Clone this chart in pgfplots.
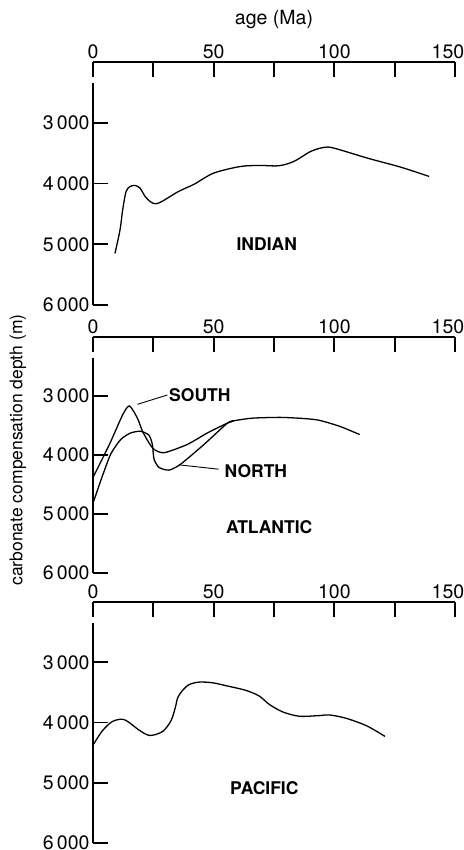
\documentclass[border=0pt]{standalone}
\usepackage{fontspec}
\setmainfont{TeX Gyre Heros}
\usepackage{pgfplots}
\pgfplotsset{compat=1.18}
\tikzset{lab/.style={font=\fontsize{17.5bp}{20bp}\selectfont\bfseries}}
\begin{document}
\begin{tikzpicture}[font=\fontsize{19.5bp}{22bp}\selectfont]
\pgfplotsset{
 ccd/.style={
  scale only axis, width=362bp,
  xmin=0, xmax=150, ymin=2000, ymax=6000, y dir=reverse,
  axis x line*=top, axis y line*=left,
  axis line style={-, line width=1.7bp},
  y axis line style={draw=none},
  xtick={0,50,100,150}, xticklabels={0,50,100,{\hspace*{-14bp}150}},
  minor xtick={25,75,125},
  ytick={3000,4000,5000,6000}, yticklabels={3\,000,4\,000,5\,000,6\,000},
  tick align=inside,
  major tick length=15bp, minor tick length=15bp,
  every tick/.style={black, line width=1.7bp},
  every minor tick/.style={black, line width=1.7bp},
  tick label style={font=\fontsize{19.5bp}{22bp}\selectfont},
  xticklabel style={inner sep=3bp},
  clip=false,
  anchor=north west,
 },
 curve/.style={black, line width=1.3bp, smooth, no marks},
}
% ---------------- INDIAN ----------------
\begin{axis}[ccd, at={(0,0)}, height=243bp]
\draw[line width=1.7bp] (axis cs:0,2350) -- (axis cs:0,6000);
\addplot[curve, tension=0.5] coordinates {
(9.1,5150) (11.2,4763) (12.3,4433) (13.7,4132) (15.4,4049) (17.5,4033)
(19.5,4076) (21.6,4214) (23.7,4297) (25.8,4334) (28.5,4297) (35.4,4132)
(42,4010) (50,3829) (61.1,3720)
(69.4,3703) (77,3708) (83.2,3637) (90.2,3472) (95.7,3406) (99.8,3417)
(113.7,3582) (127.5,3731) (139.3,3884)};
\node[lab] at (axis cs:72,5000) {INDIAN};
\end{axis}
% ---------------- ATLANTIC ----------------
\begin{axis}[ccd, at={(0,-275bp)}, height=236bp]
\draw[line width=1.7bp] (axis cs:0,2350) -- (axis cs:0,6000);
\addplot[curve, tension=0.4] coordinates {
(0,4380) (6.8,3821) (12.3,3318) (15.1,3168) (18.4,3375) (20.5,3598)
(23.2,3794) (25.3,3905) (29.5,3961) (39.1,3821) (47.4,3626) (55.7,3459)
(58.5,3419) (66.2,3375) (78.7,3363) (92.5,3402) (102.2,3514) (110.5,3653)};
\addplot[curve, tension=0.4] coordinates {
(0,4820) (3.2,4436) (7.3,3988) (11.5,3737) (15.6,3626) (19.8,3598)
(23.2,3665) (24.6,3821) (25.3,4072) (27.4,4212) (31.5,4256) (36.3,4156)
(46,3821) (55.7,3459) (58.5,3419)};
\draw[line width=0.9bp] (axis cs:18.4,3141) -- (axis cs:30.8,2983);
\node[lab, anchor=west, inner sep=0pt] at (axis cs:31.5,2985) {SOUTH};
\draw[line width=0.9bp] (axis cs:35.9,4168) -- (axis cs:52,4240);
\node[lab, anchor=west, inner sep=0pt] at (axis cs:54.5,4268) {NORTH};
\node[lab] at (axis cs:73,5230) {ATLANTIC};
\end{axis}
% ---------------- PACIFIC ----------------
\begin{axis}[ccd, at={(0,-540bp)}, height=241bp]
\draw[line width=1.7bp] (axis cs:0,2350) -- (axis cs:0,6000);
\addplot[curve, tension=0.5] coordinates {
(0.3,4357) (3.9,4137) (8,3984) (12.2,3945) (15,4000) (19.1,4126)
(23.5,4215) (28.8,4150) (32.3,3972) (34.1,3753) (35.1,3588) (37.1,3468)
(39.9,3369) (44.1,3329) (49.6,3341) (55.8,3395) (63.4,3467) (68.9,3561) (73,3698)
(78.6,3824) (85.5,3896) (93.8,3885) (97.9,3874) (104.8,3929) (113.4,4055)
(121,4231)};
\node[lab] at (axis cs:71,5090) {PACIFIC};
\end{axis}
\node at (181bp,42bp) {age (Ma)};
\node[rotate=90, inner sep=0pt, font=\fontsize{17.5bp}{20bp}\selectfont] at (-75bp,-388bp) {carbonate compensation depth (m)};
\pgfresetboundingbox
\useasboundingbox (-93bp,62bp) rectangle (371bp,-788bp);
\end{tikzpicture}
\end{document}
